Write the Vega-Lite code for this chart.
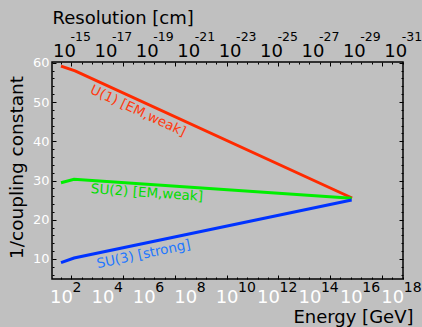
{
  "$schema": "https://vega.github.io/schema/vega-lite/v6.json",
  "width": 351,
  "height": 217,
  "autosize": {"type": "none"},
  "padding": {"left": 52, "top": 62, "right": 19, "bottom": 48},
  "background": "#c0c0c0",
  "config": {
    "font": "DejaVu Sans",
    "view": {"stroke": "#000000", "strokeWidth": 1.5},
    "axis": {"grid": false, "domain": false, "labelFlush": false, "labelOverlap": false, "labelFont": "DejaVu Sans", "titleFont": "DejaVu Sans", "titleFontWeight": "normal", "titleColor": "#000000", "tickColor": "#000000", "tickWidth": 1},
    "text": {"font": "DejaVu Sans"}
  },
  "data": {"values": [
    {"series": "U(1)", "logE": 2.0, "inv": 59.16},
    {"series": "U(1)", "logE": 2.68, "inv": 57.96},
    {"series": "U(1)", "logE": 16.06, "inv": 25.54},
    {"series": "SU(2)", "logE": 2.0, "inv": 29.43},
    {"series": "SU(2)", "logE": 2.63, "inv": 30.3},
    {"series": "SU(2)", "logE": 16.04, "inv": 25.46},
    {"series": "SU(3)", "logE": 2.0, "inv": 9.06},
    {"series": "SU(3)", "logE": 2.63, "inv": 10.26},
    {"series": "SU(3)", "logE": 16.04, "inv": 25.03}
  ]},
  "resolve": {"axis": {"x": "independent", "y": "independent"}},
  "layer": [
    {
      "mark": {"type": "line", "strokeWidth": 3},
      "encoding": {
        "x": {"field": "logE", "type": "quantitative",
          "scale": {"domain": [1.565, 18.52], "nice": false, "zero": false},
          "axis": {"orient": "bottom", "values": [2, 4, 6, 8, 10, 12, 14, 16, 18], "labelExpr": "'10'", "labelColor": "#ffffff", "labelFontSize": 18, "labelBaseline": "middle", "labelAlign": "center", "labelPadding": 18, "ticks": false,
            "title": "Energy [GeV]", "titleFontSize": 18, "titleX": 361, "titleY": 43, "titleAlign": "right", "titleBaseline": "alphabetic", "titleAngle": 0}},
        "y": {"field": "inv", "type": "quantitative",
          "scale": {"domain": [4.9, 60.2], "nice": false, "zero": false},
          "axis": {"orient": "left", "values": [10, 20, 30, 40, 50, 60], "labelColor": "#ffffff", "labelFontSize": 13, "labelPadding": 3, "labelBaseline": "middle", "ticks": false,
            "title": "1/coupling constant", "titleFontSize": 18.5, "titleX": -36, "titleY": 105, "titleAngle": -90, "titleAlign": "center", "titleBaseline": "middle"}},
        "color": {"field": "series", "type": "nominal",
          "scale": {"domain": ["U(1)", "SU(2)", "SU(3)"], "range": ["#ff2a00", "#00ee00", "#0033ff"]},
          "legend": null}
      }
    },
    {
      "mark": {"type": "point", "opacity": 0},
      "encoding": {
        "x": {"field": "logE", "type": "quantitative",
          "scale": {"domain": [1.565, 18.52], "nice": false, "zero": false},
          "axis": {"orient": "bottom", "values": [2, 4, 6, 8, 10, 12, 14, 16, 18], "labelExpr": "format(datum.value, 'd')", "labelColor": "#000000", "labelFontSize": 14, "labelBaseline": "middle", "labelAlign": "left", "labelOffset": 11, "labelPadding": 8, "ticks": false, "title": null}},
        "y": {"field": "inv", "type": "quantitative",
          "scale": {"domain": [4.9, 60.2], "nice": false, "zero": false},
          "axis": {"orient": "left", "values": [10, 20, 30, 40, 50, 60], "labels": false, "offset": -4, "tickSize": 4, "title": null}}
      }
    },
    {
      "mark": {"type": "point", "opacity": 0},
      "encoding": {
        "x": {"field": "logE", "type": "quantitative",
          "scale": {"domain": [1.565, 18.52], "nice": false, "zero": false},
          "axis": {"orient": "bottom", "values": [2.5, 5, 7.5, 10, 12.5, 15, 17.5], "labels": false, "offset": -4, "tickSize": 4, "title": null}},
        "y": {"field": "inv", "type": "quantitative",
          "scale": {"domain": [4.9, 60.2], "nice": false, "zero": false},
          "axis": {"orient": "left", "values": [6, 8, 12, 14, 16, 18, 22, 24, 26, 28, 32, 34, 36, 38, 42, 44, 46, 48, 52, 54, 56, 58], "labels": false, "offset": -2, "tickSize": 2, "title": null}}
      }
    },
    {
      "mark": {"type": "point", "opacity": 0},
      "encoding": {
        "x": {"field": "logE", "type": "quantitative",
          "scale": {"domain": [1.565, 18.52], "nice": false, "zero": false},
          "axis": {"orient": "bottom", "values": [2, 3, 3.5, 4, 4.5, 5.5, 6, 6.5, 7, 8, 8.5, 9, 9.5, 10.5, 11, 11.5, 12, 13, 13.5, 14, 14.5, 15.5, 16, 16.5, 17, 18, 18.5], "labels": false, "offset": -2, "tickSize": 2, "title": null}},
        "y": {"field": "inv", "type": "quantitative",
          "scale": {"domain": [4.9, 60.2], "nice": false, "zero": false},
          "axis": {"orient": "right", "values": [10, 20, 30, 40, 50, 60], "labels": false, "offset": -4, "tickSize": 4, "title": null}}
      }
    },
    {
      "mark": {"type": "point", "opacity": 0},
      "encoding": {
        "x": {"field": "logE", "type": "quantitative",
          "scale": {"domain": [1.565, 18.52], "nice": false, "zero": false},
          "axis": {"orient": "top", "values": [2, 4, 6, 8, 10, 12, 14, 16, 18], "labelExpr": "'10'", "labelColor": "#000000", "labelFontSize": 18, "labelBaseline": "middle", "labelAlign": "center", "labelOffset": 3, "labelPadding": 10.5, "ticks": false,
            "title": "Resolution [cm]", "titleFontSize": 18, "titleX": 0, "titleY": -39, "titleAlign": "left", "titleBaseline": "alphabetic"}},
        "y": {"field": "inv", "type": "quantitative",
          "scale": {"domain": [4.9, 60.2], "nice": false, "zero": false},
          "axis": {"orient": "right", "values": [6, 8, 12, 14, 16, 18, 22, 24, 26, 28, 32, 34, 36, 38, 42, 44, 46, 48, 52, 54, 56, 58], "labels": false, "offset": -2, "tickSize": 2, "title": null}}
      }
    },
    {
      "mark": {"type": "point", "opacity": 0},
      "encoding": {
        "x": {"field": "logE", "type": "quantitative",
          "scale": {"domain": [1.565, 18.52], "nice": false, "zero": false},
          "axis": {"orient": "top", "values": [2, 4, 6, 8, 10, 12, 14, 16, 18], "labelExpr": "'-' + format(13 + datum.value, 'd')", "labelColor": "#000000", "labelFontSize": 12.5, "labelBaseline": "middle", "labelAlign": "left", "labelOffset": 9, "labelPadding": 26, "ticks": false, "title": null}}
      }
    },
    {
      "mark": {"type": "point", "opacity": 0},
      "encoding": {
        "x": {"field": "logE", "type": "quantitative",
          "scale": {"domain": [1.565, 18.52], "nice": false, "zero": false},
          "axis": {"orient": "top", "values": [2.5, 5, 7.5, 10, 12.5, 15, 17.5], "labels": false, "offset": -4, "tickSize": 4, "title": null}}
      }
    },
    {
      "mark": {"type": "point", "opacity": 0},
      "encoding": {
        "x": {"field": "logE", "type": "quantitative",
          "scale": {"domain": [1.565, 18.52], "nice": false, "zero": false},
          "axis": {"orient": "top", "values": [2, 3, 3.5, 4, 4.5, 5.5, 6, 6.5, 7, 8, 8.5, 9, 9.5, 10.5, 11, 11.5, 12, 13, 13.5, 14, 14.5, 15.5, 16, 16.5, 17, 18, 18.5], "labels": false, "offset": -2, "tickSize": 2, "title": null}}
      }
    },
    {
      "data": {"values": [{"label": "U(1) [EM,weak]", "logE": 5.72, "inv": 47.7}]},
      "mark": {"type": "text", "angle": 25, "fontSize": 13.5, "color": "#ff3a10", "align": "center", "baseline": "middle"},
      "encoding": {
        "x": {"field": "logE", "type": "quantitative", "scale": {"domain": [1.565, 18.52], "nice": false, "zero": false}, "axis": null},
        "y": {"field": "inv", "type": "quantitative", "scale": {"domain": [4.9, 60.2], "nice": false, "zero": false}, "axis": null},
        "text": {"field": "label"}
      }
    },
    {
      "data": {"values": [{"label": "SU(2) [EM,weak]", "logE": 6.15, "inv": 26.81}]},
      "mark": {"type": "text", "angle": 4, "fontSize": 13.5, "color": "#00dd00", "align": "center", "baseline": "middle"},
      "encoding": {
        "x": {"field": "logE", "type": "quantitative", "scale": {"domain": [1.565, 18.52], "nice": false, "zero": false}, "axis": null},
        "y": {"field": "inv", "type": "quantitative", "scale": {"domain": [4.9, 60.2], "nice": false, "zero": false}, "axis": null},
        "text": {"field": "label"}
      }
    },
    {
      "data": {"values": [{"label": "SU(3) [strong]", "logE": 5.99, "inv": 11.15}]},
      "mark": {"type": "text", "angle": -12, "fontSize": 13.5, "color": "#2277ff", "align": "center", "baseline": "middle"},
      "encoding": {
        "x": {"field": "logE", "type": "quantitative", "scale": {"domain": [1.565, 18.52], "nice": false, "zero": false}, "axis": null},
        "y": {"field": "inv", "type": "quantitative", "scale": {"domain": [4.9, 60.2], "nice": false, "zero": false}, "axis": null},
        "text": {"field": "label"}
      }
    }
  ]
}
